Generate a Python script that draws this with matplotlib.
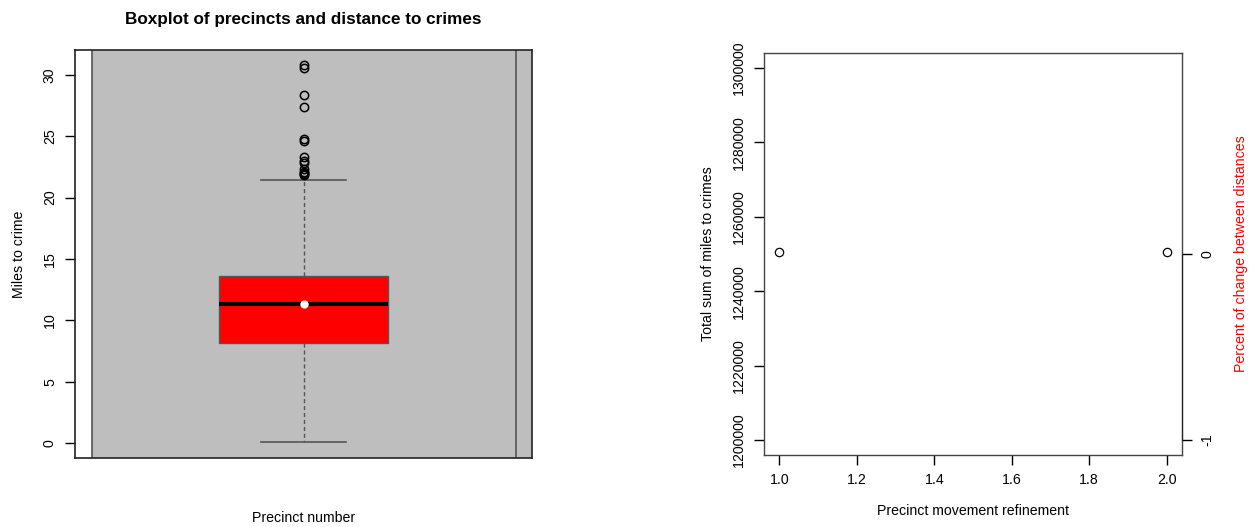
import matplotlib

matplotlib.use("Agg")
import matplotlib.pyplot as plt

plt.rcParams["font.family"] = ["Liberation Sans", "DejaVu Sans"]

# distance from each crime to its precinct (summary of the boxplot)
miles_q1 = 8.15
miles_median = 11.33
miles_q3 = 13.6
miles_mean = 11.33
whisker_low = 0.1
whisker_high = 21.45
outliers = [30.8, 30.6, 28.4, 27.4, 24.8, 24.6, 23.3, 23.0, 22.8,
            22.3, 22.1, 22.0, 21.9, 21.8]

# refinement steps and resulting total distance
refinement = [1.0, 2.0]
total_miles = [1250450, 1250450]

FS = 10.2
FRAME = "#222222"

fig = plt.figure(figsize=(12.57, 5.27), dpi=100)

# ---- left: boxplot ------------------------------------------------------ #
ax = fig.add_axes([75 / 1257, 69 / 527, 457 / 1257, 408 / 527])
ax.set_xlim(0.5, 1.5)
ax.set_ylim(-1.23, 32.03)
ax.axvspan(0.537, 1.5, color="#bebebe", zorder=0)
ax.axvline(0.537, color="#555555", lw=1.2, zorder=1)
ax.axvline(1.465, color="#555555", lw=1.2, zorder=1)

stats = [dict(med=miles_median, q1=miles_q1, q3=miles_q3, mean=miles_mean,
              whislo=whisker_low, whishi=whisker_high, fliers=outliers)]
ax.bxp(stats, positions=[1], widths=0.37, patch_artist=True, showmeans=True,
       boxprops=dict(facecolor="red", edgecolor="#555555", lw=1),
       medianprops=dict(color="black", lw=3),
       whiskerprops=dict(color="#555555", lw=1, ls=(0, (3, 2))),
       capprops=dict(color="#555555", lw=1.2),
       capwidths=0.186,
       meanprops=dict(marker="o", markerfacecolor="white",
                      markeredgecolor="white", markersize=5),
       flierprops=dict(marker="o", markerfacecolor="none",
                       markeredgecolor="black", markersize=6, mew=1.1))

ax.set_xticks([])
ax.set_yticks([0, 5, 10, 15, 20, 25, 30])
ax.tick_params(axis="y", length=7, width=1, pad=6, labelsize=FS)
for t in ax.get_yticklabels():
    t.set_rotation(90)
    t.set_va("center")
for s in ax.spines.values():
    s.set_color(FRAME)
    s.set_linewidth(1.2)
ax.set_xlabel("Precinct number", fontsize=FS, labelpad=38)
ax.set_ylabel("Miles to crime", fontsize=FS, labelpad=12)
ax.set_title("Boxplot of precincts and distance to crimes",
             fontsize=12.3, fontweight="bold", pad=19)

# ---- right: total distance per refinement ------------------------------ #
ax2 = fig.add_axes([764 / 1257, 72 / 527, 418 / 1257, 402 / 527])
ax2.plot(refinement, total_miles, ls="none", marker="o", markersize=6,
         markerfacecolor="none", markeredgecolor="black", mew=0.9)
ax2.set_xlim(0.96, 2.04)
ax2.set_ylim(1196000, 1304000)
ax2.set_xticks([1.0, 1.2, 1.4, 1.6, 1.8, 2.0])
ax2.set_xticklabels(["1.0", "1.2", "1.4", "1.6", "1.8", "2.0"])
ax2.set_yticks([1200000, 1220000, 1240000, 1260000, 1280000, 1300000])
ax2.set_yticklabels(["1200000", "1220000", "1240000", "1260000",
                     "1280000", "1300000"])
ax2.tick_params(length=7, width=1, pad=6, labelsize=FS)
for t in ax2.get_yticklabels():
    t.set_rotation(90)
    t.set_va("center")
for s in ax2.spines.values():
    s.set_color("#444444")
    s.set_linewidth(1.0)
ax2.set_xlabel("Precinct movement refinement", fontsize=FS, labelpad=12)
ax2.set_ylabel("Total sum of miles to crimes", fontsize=FS, labelpad=12)

# percent change on a second y axis
ax3 = ax2.twinx()
ax3.set_ylim(-1.08, 1.08)
ax3.set_yticks([-1, 0])
ax3.set_yticklabels(["-1", "0"])
ax3.spines["right"].set_bounds(-1, 0)
for name in ["top", "left", "bottom"]:
    ax3.spines[name].set_visible(False)
ax3.spines["right"].set_color(FRAME)
ax3.tick_params(length=7, width=1, pad=6, labelsize=FS)
for t in ax3.get_yticklabels():
    t.set_rotation(90)
    t.set_va("center")
ax3.set_ylabel("Percent of change between distances", color="red",
               fontsize=FS, labelpad=14)

fig.savefig("out.png", dpi=100)
